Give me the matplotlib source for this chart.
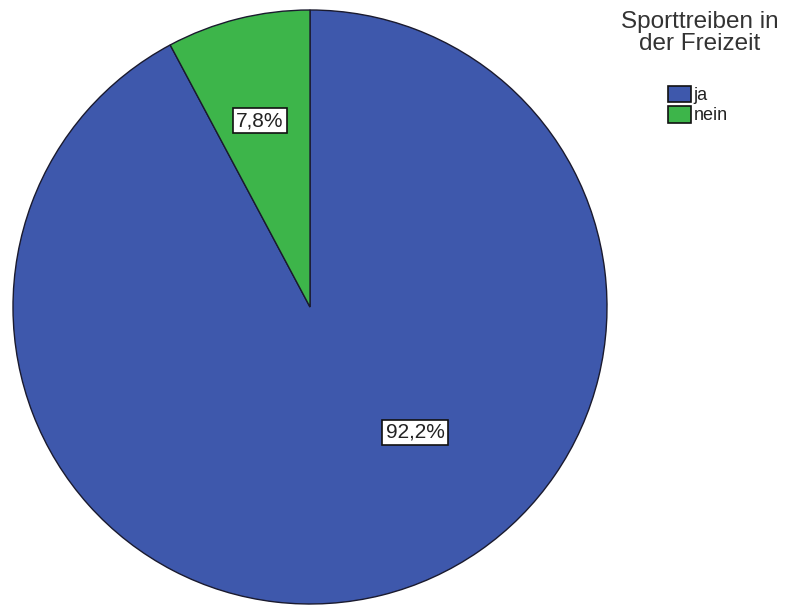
import numpy as np
import matplotlib.pyplot as plt
from matplotlib.patches import Patch

plt.rcParams['font.family'] = ['Liberation Sans', 'DejaVu Sans']

categories = ['ja', 'nein']
percents   = [92.2, 7.8]
labels     = ['92,2%', '7,8%']
colors     = ['#3E58AC', '#3DB54A']
title      = 'Sporttreiben in\nder Freizeit'

fig = plt.figure(figsize=(7.87, 6.05), dpi=100)
ax  = fig.add_axes([13 / 787, 1 / 605, 594 / 787, 594 / 605])

wedges, _ = ax.pie(percents, colors=colors, startangle=90, counterclock=False,
                   wedgeprops=dict(edgecolor='#1a1a2e', linewidth=1.0))
ax.set_xlim(-1, 1)
ax.set_ylim(-1, 1)
ax.set_aspect('auto')
ax.axis('off')

# label positions (angle of label, fraction of radius) as SPSS placed them
label_pos = [(-50, 0.55), (105, 0.65)]
for lab, (ang, r) in zip(labels, label_pos):
    a = np.deg2rad(ang)
    ax.text(r * np.cos(a), r * np.sin(a), lab, ha='center', va='center', fontsize=15,
            color='#222222',
            bbox=dict(boxstyle='square,pad=0.15', facecolor='white', edgecolor='#111111', linewidth=1.2))

# legend title as separate text (SPSS leaves a gap before the entries)
fig.text(700 / 787, 1 - 11 / 605, title, ha='center', va='top', fontsize=17.5,
         color='#333333', linespacing=1.0)

handles = [Patch(facecolor=c, edgecolor='#111111', linewidth=1.2, label=n) for c, n in zip(colors, categories)]
leg = fig.legend(handles=handles, loc='upper left',
                 bbox_to_anchor=(664 / 787, 1 - 82 / 605), frameon=False,
                 fontsize=13, handlelength=1.3, handleheight=1.05,
                 handletextpad=0.15, labelspacing=0.1, borderpad=0.2, borderaxespad=0)
for t in leg.get_texts():
    t.set_color('#222222')

plt.savefig('out.png', dpi=100)
